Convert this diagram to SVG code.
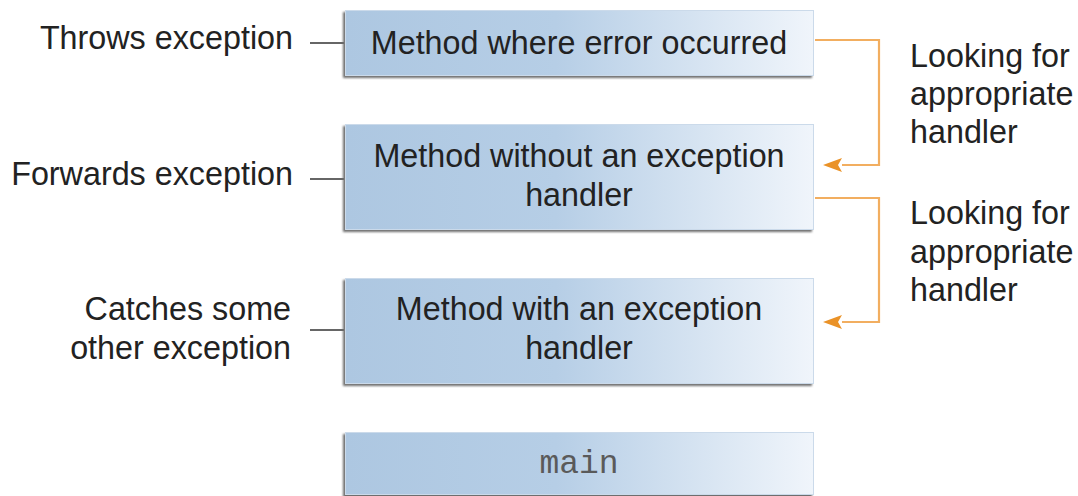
<svg xmlns="http://www.w3.org/2000/svg" width="1078" height="496" viewBox="0 0 1078 496">
<style>
.t{font-family:"Liberation Sans",Arial,sans-serif;font-size:32.3px;fill:#222}
.m{font-family:"Liberation Mono","Courier New",monospace;font-size:33px;fill:#5a5a5a}
.box{fill:url(#g);stroke:#cbdaea;stroke-width:1}
.sh{fill:#6e6e6e;filter:url(#b)}
.lead{stroke:#333;stroke-width:1.6;fill:none}
.conn{stroke:#f2ae60;stroke-width:2.2;fill:none}
</style>
<defs>
<linearGradient id="g" x1="0" y1="0" x2="1" y2="0">
<stop offset="0" stop-color="#adc7e1"/>
<stop offset="0.45" stop-color="#b6cee6"/>
<stop offset="1" stop-color="#f0f5fb"/>
</linearGradient>
<filter id="b" x="-5%" y="-20%" width="110%" height="140%"><feGaussianBlur stdDeviation="0.8"/></filter>
</defs>
<g id="connectors">
<path class="conn" d="M815,40 H879 V165 H842"/>
<path class="conn" d="M815,198 H879 V322 H842"/>
<path d="M823,165 L842,158 L838,165 L842,172 Z" fill="#ea9227"/>
<path d="M823,322 L842,315 L838,322 L842,329 Z" fill="#ea9227"/>
<line class="lead" x1="310" y1="43" x2="344" y2="43"/>
<line class="lead" x1="310" y1="179" x2="344" y2="179"/>
<line class="lead" x1="310" y1="330" x2="344" y2="330"/>
</g>
<g id="node1">
<rect class="sh" x="343" y="12" width="469" height="66"/>
<rect class="box" x="345.5" y="10.5" width="468" height="65"/>
<text class="t" x="579" y="54" text-anchor="middle">Method where error occurred</text>
</g>
<g id="node2">
<rect class="sh" x="343" y="126" width="469" height="106"/>
<rect class="box" x="345.5" y="124.5" width="468" height="105"/>
<text class="t" x="579" y="167" text-anchor="middle">Method without an exception</text>
<text class="t" x="579" y="206" text-anchor="middle">handler</text>
</g>
<g id="node3">
<rect class="sh" x="343" y="280" width="469" height="106"/>
<rect class="box" x="345.5" y="278.5" width="468" height="105"/>
<text class="t" x="579" y="320" text-anchor="middle">Method with an exception</text>
<text class="t" x="579" y="359" text-anchor="middle">handler</text>
</g>
<g id="node4">
<rect class="sh" x="343" y="434" width="469" height="66"/>
<rect class="box" x="345.5" y="432.5" width="468" height="62"/>
<text class="m" x="579" y="473" text-anchor="middle">main</text>
</g>
<g id="label-throws">
<text class="t" x="293" y="49" text-anchor="end">Throws exception</text>
</g>
<g id="label-forwards">
<text class="t" x="293" y="185" text-anchor="end">Forwards exception</text>
</g>
<g id="label-catches">
<text class="t" x="291" y="320" text-anchor="end">Catches some</text>
<text class="t" x="291" y="359" text-anchor="end">other exception</text>
</g>
<g id="label-looking1">
<text class="t" x="910" y="67">Looking for</text>
<text class="t" x="910" y="105">appropriate</text>
<text class="t" x="910" y="143">handler</text>
</g>
<g id="label-looking2">
<text class="t" x="910" y="224">Looking for</text>
<text class="t" x="910" y="263">appropriate</text>
<text class="t" x="910" y="301">handler</text>
</g>
</svg>
